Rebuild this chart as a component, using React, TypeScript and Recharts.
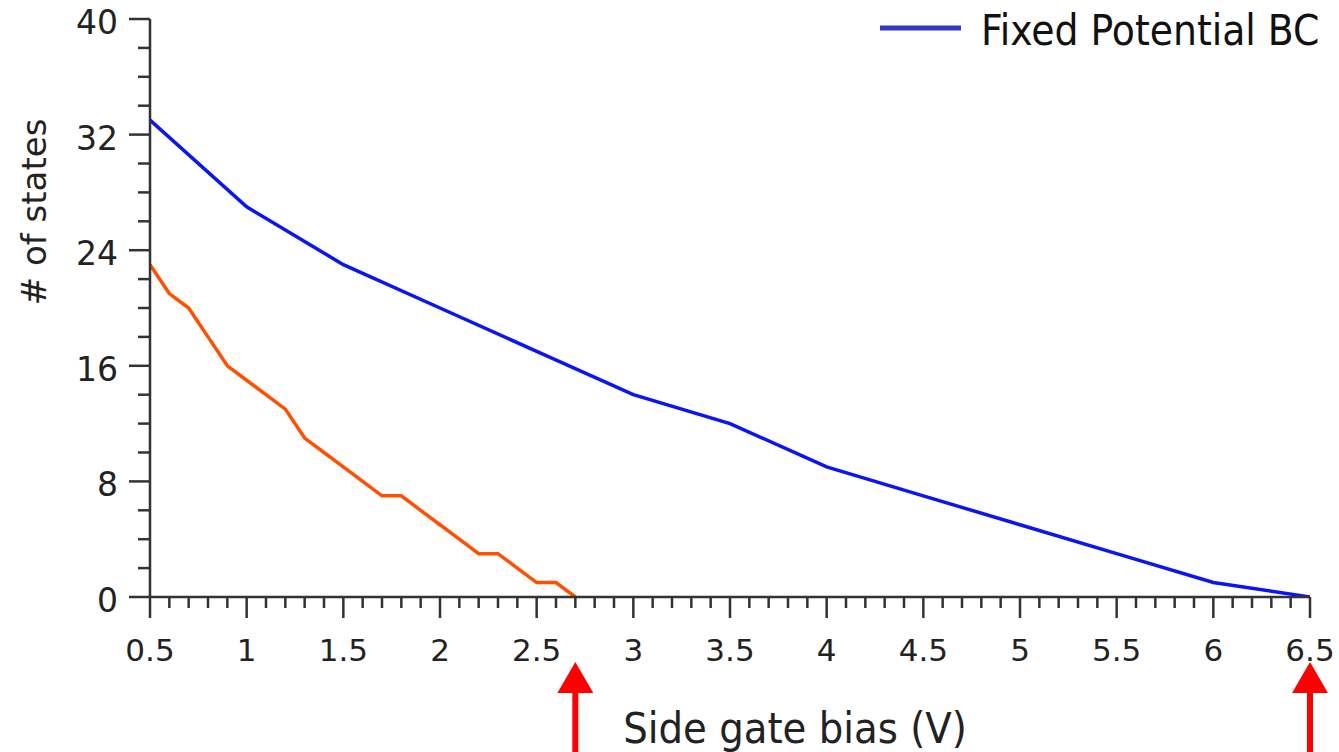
import React from 'react';
import { LineChart, Line, XAxis, YAxis, Legend, ReferenceDot, Label } from 'recharts';

// bias (V) and number of states
const fixedBias = [0.5, 1, 1.5, 2, 2.5, 3, 3.5, 4, 4.5, 5, 5.5, 6, 6.5];
const fixedStates = [33, 27, 23, 20, 17, 14, 12, 9, 7, 5, 3, 1, 0];

const otherBias = [0.5, 0.6, 0.7, 0.8, 0.9, 1, 1.1, 1.2, 1.3, 1.4, 1.5, 1.6, 1.7, 1.8, 1.9, 2, 2.1, 2.2, 2.3, 2.4, 2.5, 2.6, 2.7];
const otherStates = [23, 21, 20, 18, 16, 15, 14, 13, 11, 10, 9, 8, 7, 7, 6, 5, 4, 3, 3, 2, 1, 1, 0];

const xMajor = [0.5, 1, 1.5, 2, 2.5, 3, 3.5, 4, 4.5, 5, 5.5, 6, 6.5];
const yMajor = [0, 8, 16, 24, 32, 40];

// red arrows below the axis mark where each curve hits zero
const arrowBias = [2.7, 6.5];
const arrowLevel = -4.5;

const FONT = '"DejaVu Sans", sans-serif';
const NARROW = '"DejaVu Sans Condensed", "DejaVu Sans", sans-serif';
const AXIS = '#333';

const fixedData = fixedBias.map((b, i) => ({ bias: b, states: fixedStates[i] }));
const otherData = otherBias.map((b, i) => ({ bias: b, states: otherStates[i] }));

const xTicks = Array.from({ length: 61 }, (_, i) => Math.round(i + 5) / 10);
const yTicks = Array.from({ length: 21 }, (_, i) => i * 2);

const XTick = (props: any) => {
  const { x, y, payload } = props;
  const major = xMajor.includes(payload.value);
  return (
    <g>
      <line x1={x} y1={y} x2={x} y2={y + (major ? 21 : 11)} stroke={AXIS} strokeWidth={2.5} />
      {major && (
        <text x={x} y={y + 64} textAnchor="middle" fontSize={31} fill="#222" fontFamily={FONT}>
          {String(payload.value)}
        </text>
      )}
    </g>
  );
};

const YTick = (props: any) => {
  const { x, y, payload } = props;
  const major = yMajor.includes(payload.value);
  return (
    <g>
      <line x1={x} y1={y} x2={x - (major ? 21 : 12)} y2={y} stroke={AXIS} strokeWidth={2.5} />
      {major && (
        <text x={x - 32} y={y + 15} textAnchor="end" fontSize={33} fill="#222" fontFamily={FONT}>
          {String(payload.value)}
        </text>
      )}
    </g>
  );
};

const Arrow = (props: any) => {
  const { cx, cy } = props;
  return (
    <g>
      <polygon points={`${cx},${cy} ${cx - 18},${cy + 31} ${cx + 18},${cy + 31}`} fill="#ff0000" />
      <rect x={cx - 3} y={cy + 30} width={6} height={70} fill="#ff0000" />
    </g>
  );
};

const renderLegend = (props: any) => {
  const items = (props.payload || []).filter((p: any) => p.type !== 'none');
  return (
    <svg width={1339} height={60}>
      {items.map((p: any) => (
        <g key={p.value}>
          <line x1={880} y1={28} x2={961} y2={28} stroke="#3535c8" strokeWidth={5} />
          <text x={981} y={45} fontSize={42} fill="#111" fontFamily={NARROW}>
            {p.value}
          </text>
        </g>
      ))}
    </svg>
  );
};

export default function App() {
  return (
    <div style={{ position: 'absolute', left: 0, top: 0, background: '#fff' }}>
      <LineChart width={1339} height={752} margin={{ top: 19, right: 29, bottom: 0, left: 0 }}>
        <XAxis
          dataKey="bias"
          type="number"
          domain={[0.5, 6.5]}
          ticks={xTicks}
          interval={0}
          tick={<XTick />}
          tickSize={0}
          tickMargin={0}
          tickLine={false}
          height={155}
          axisLine={{ stroke: AXIS, strokeWidth: 2.5 }}
          allowDataOverflow
        >
          <Label
            content={(p: any) => (
              <text x={p.viewBox.x + 645} y={p.viewBox.y + 146} textAnchor="middle" fontSize={43} fill="#222" fontFamily={NARROW}>
                Side gate bias (V)
              </text>
            )}
          />
        </XAxis>
        <YAxis
          type="number"
          domain={[0, 40]}
          ticks={yTicks}
          interval={0}
          tick={<YTick />}
          tickSize={0}
          tickMargin={0}
          tickLine={false}
          width={150}
          axisLine={{ stroke: AXIS, strokeWidth: 2.5 }}
          allowDataOverflow
        >
          <Label
            content={() => (
              <text x={46} y={212} transform="rotate(-90, 46, 212)" textAnchor="middle" fontSize={34} fill="#222" fontFamily={FONT}>
                # of states
              </text>
            )}
          />
        </YAxis>
        <Legend
          layout="vertical"
          align="center"
          verticalAlign="middle"
          content={renderLegend}
          wrapperStyle={{ top: 0, left: 0, width: 1339, height: 60 }}
        />
        <Line
          data={otherData}
          dataKey="states"
          name="Other BC"
          stroke="#ff5000"
          strokeWidth={3.5}
          dot={false}
          type="linear"
          legendType="none"
          isAnimationActive={false}
        />
        <Line
          data={fixedData}
          dataKey="states"
          name="Fixed Potential BC"
          stroke="#0a14f5"
          strokeWidth={3.5}
          dot={false}
          type="linear"
          isAnimationActive={false}
        />
        {arrowBias.map((b) => (
          <ReferenceDot key={b} x={b} y={arrowLevel} ifOverflow="visible" shape={<Arrow />} />
        ))}
      </LineChart>
    </div>
  );
}
